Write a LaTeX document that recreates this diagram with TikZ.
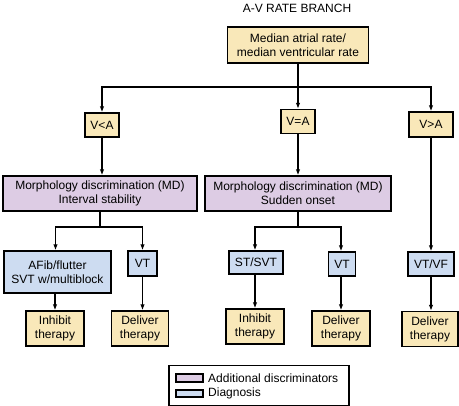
\documentclass[tikz,border=0pt]{standalone}
\usepackage{fontspec}
\setmainfont{Liberation Sans}
\usepackage{xcolor}
\usetikzlibrary{arrows.meta,positioning,calc}
\definecolor{tanfill}{HTML}{F9E8B9}
\definecolor{mdfill}{HTML}{DDCCE4}
\definecolor{dxfill}{HTML}{CDDCF1}
\begin{document}
\begin{tikzpicture}[x=1pt,y=-1pt,font=\fontsize{12}{14}\selectfont,
  tanbox/.style={draw,line width=1.3pt,fill=tanfill,inner sep=0pt,align=center},
  mdbox/.style={tanbox,fill=mdfill},
  dxbox/.style={tanbox,fill=dxfill},
  arr/.style={line width=1.2pt,-{Latex[length=6pt,width=4.5pt]}},
  ln/.style={line width=1.2pt}]
\useasboundingbox (0,0) rectangle (459,406);
\node (title) at (297,8) {A-V RATE BRANCH};
\node[tanbox,minimum width=141pt,minimum height=36pt] (rate) at (298,45) {Median atrial rate/\\median ventricular rate};
\node[tanbox,minimum width=34pt,minimum height=24pt] (vlt) at (102,125) {V<A};
\node[tanbox,minimum width=34pt,minimum height=24pt] (veq) at (298,121.5) {V=A};
\node[tanbox,minimum width=44pt,minimum height=25pt] (vgt) at (431,124.5) {V>A};
\node[mdbox,minimum width=194pt,minimum height=35pt] (md1) at (100,193.5) {Morphology discrimination (MD)\\Interval stability};
\node[mdbox,minimum width=186pt,minimum height=35pt] (md2) at (298,193.5) {Morphology discrimination (MD)\\Sudden onset};
\node[dxbox,minimum width=107pt,minimum height=42pt] (afib) at (57.5,272) {AFib/flutter\\SVT w/multiblock};
\node[dxbox,minimum width=29pt,minimum height=25pt] (vta) at (142.5,263.5) {VT};
\node[dxbox,minimum width=54pt,minimum height=23pt] (stsvt) at (256,262.5) {ST/SVT};
\node[dxbox,minimum width=27pt,minimum height=24pt] (vtb) at (342,264) {VT};
\node[dxbox,minimum width=46pt,minimum height=24pt] (vtvf) at (431,264) {VT/VF};
\node[tanbox,minimum width=58pt,minimum height=35pt] (inh1) at (55,328.5) {Inhibit\\therapy};
\node[tanbox,minimum width=57pt,minimum height=35pt] (del1) at (140,328.5) {Deliver\\therapy};
\node[tanbox,minimum width=58pt,minimum height=35pt] (inh2) at (255,326.5) {Inhibit\\therapy};
\node[tanbox,minimum width=58pt,minimum height=35pt] (del2) at (341,328.5) {Deliver\\therapy};
\node[tanbox,minimum width=56pt,minimum height=35pt] (del3) at (430,329) {Deliver\\therapy};
% connectors
\coordinate (br) at (298,87);
\draw[ln] (rate) -- (br);
\draw[arr] (br) -| (vlt.north);
\draw[arr] (br) -| (vgt.north);
\draw[arr] (br) -- (veq);
\draw[arr] (vlt) -- (vlt |- md1.north);
\draw[arr] (veq) -- (veq |- md2.north);
\draw[arr] (vgt) -- (vtvf);
\coordinate (sp1) at (100,227);
\coordinate (sp2) at (298,227);
\draw[ln] (md1) -- (sp1);
\draw[arr] (sp1) -| ([xshift=-2pt]afib.north);
\draw[arr] (sp1) -| (vta.north);
\draw[ln] (md2) -- (sp2);
\draw[arr] (sp2) -| ([xshift=-1pt]stsvt.north);
\draw[arr] (sp2) -| ([xshift=-1pt]vtb.north);
\draw[arr] (inh1 |- afib.south) -- (inh1);
\draw[arr] (vta) -- (vta |- del1.north);
\draw[arr] (inh2 |- stsvt.south) -- (inh2);
\draw[arr] (del2 |- vtb.south) -- (del2);
\draw[arr] (vtvf) -- (vtvf |- del3.north);
% legend
\node[draw,line width=1.3pt,minimum width=180pt,minimum height=40pt] (key) at (259,385.5) {};
\draw[line width=1.2pt,fill=mdfill] (176,374) rectangle (203,382);
\draw[line width=1.2pt,fill=dxfill] (176,390) rectangle (203,397);
\node[anchor=west,inner sep=0pt] (keymd) at (208,378) {Additional discriminators};
\node[anchor=west,inner sep=0pt] (keydx) at (208,393.5) {Diagnosis};
\end{tikzpicture}
\end{document}
